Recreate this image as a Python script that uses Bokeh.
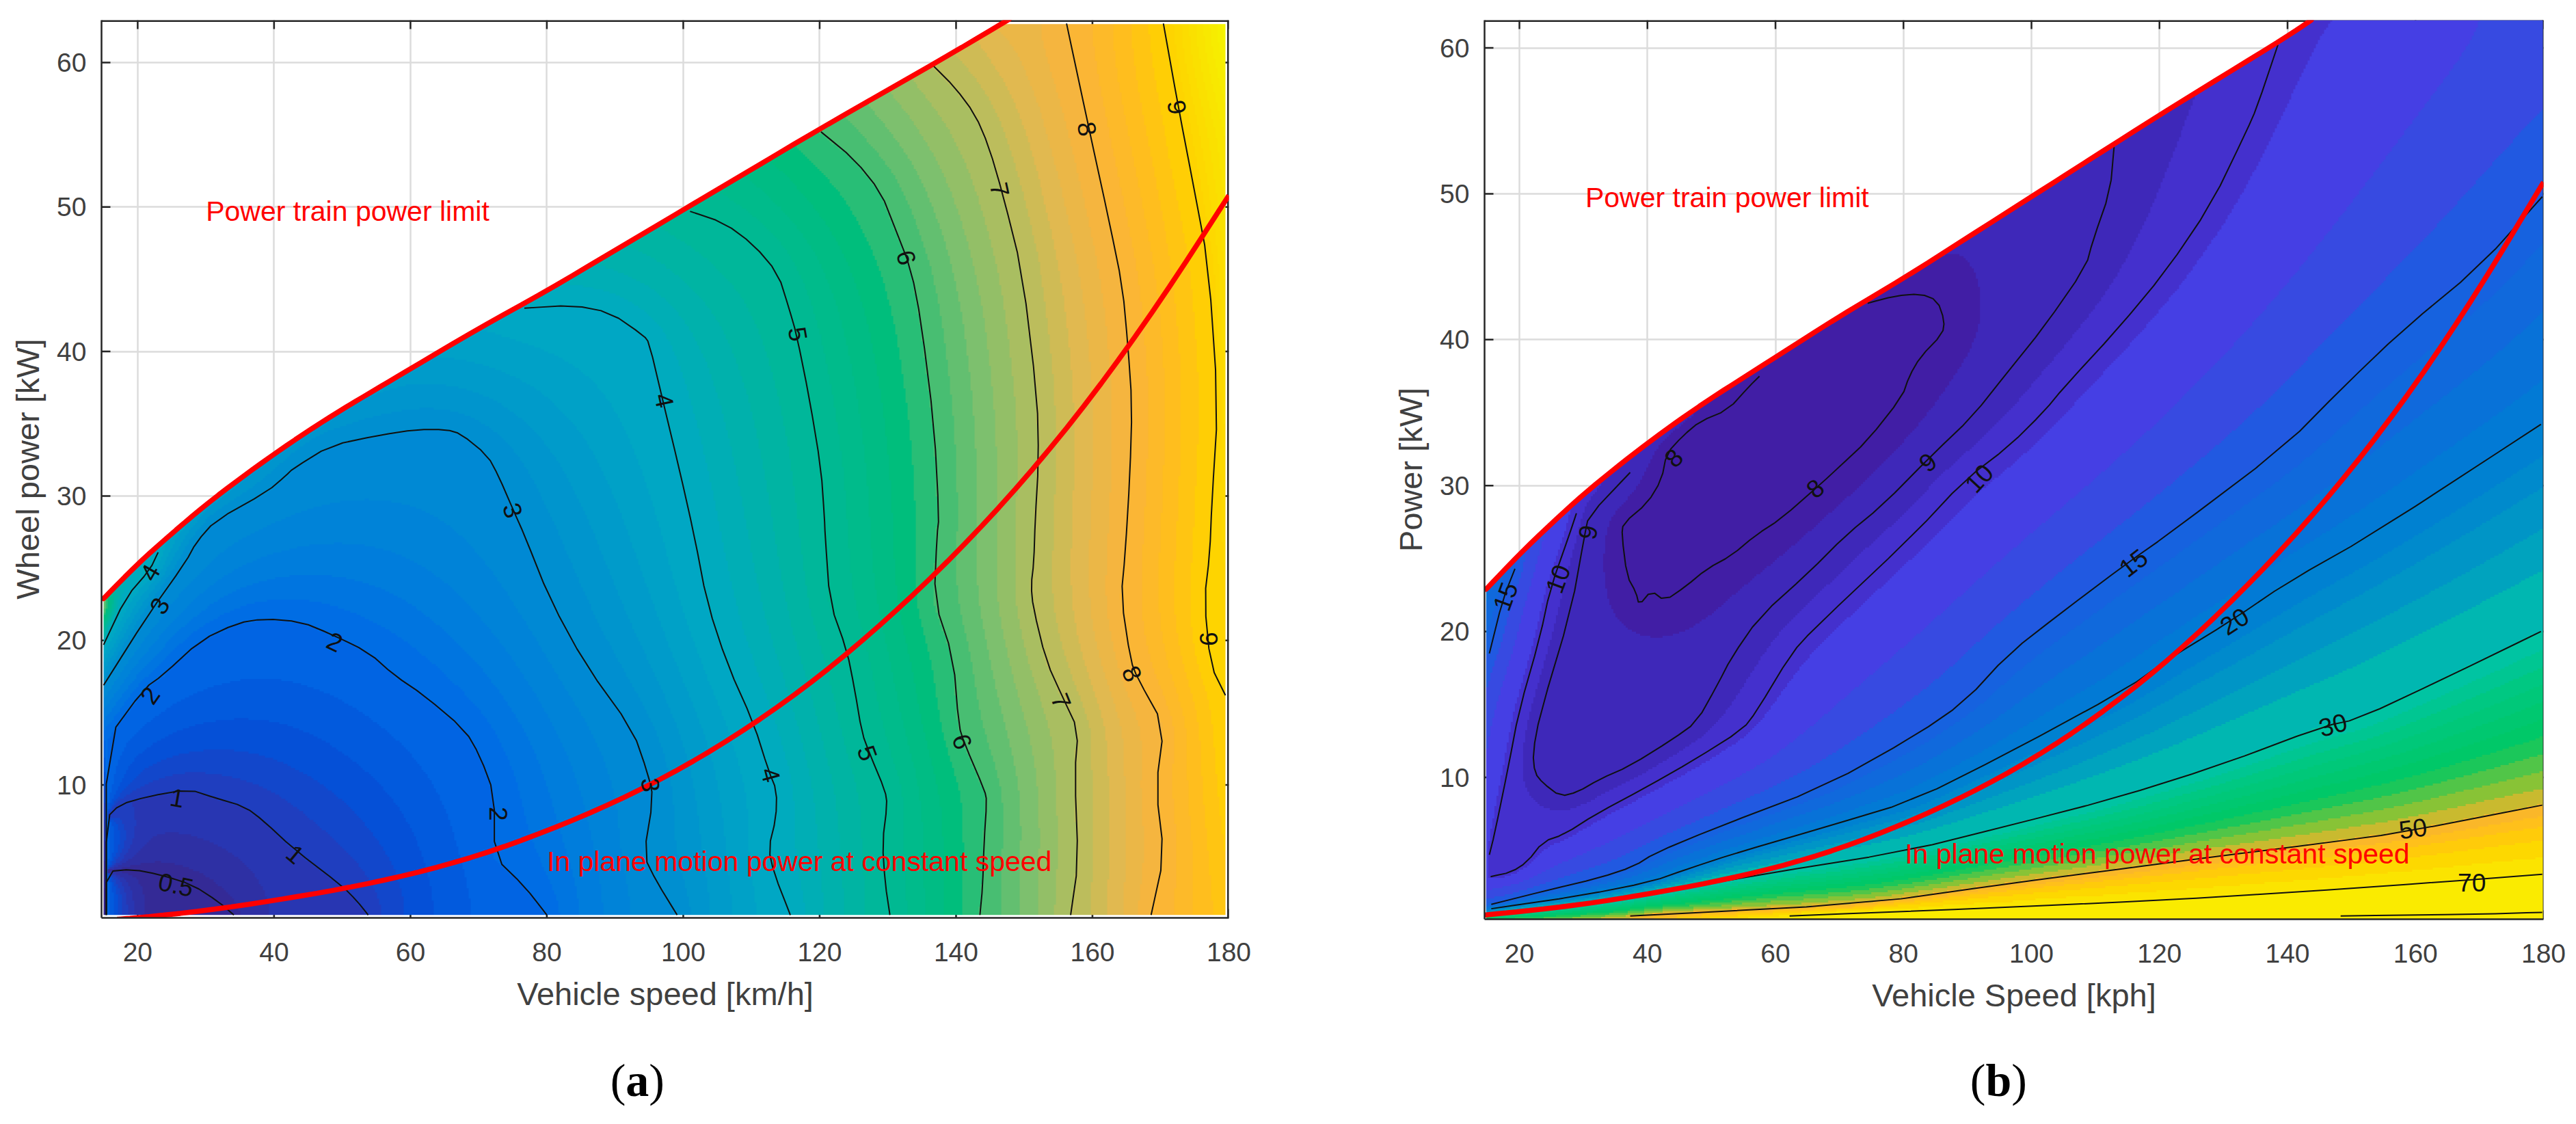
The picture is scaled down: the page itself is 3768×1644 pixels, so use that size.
import numpy as np
from bokeh.plotting import figure
from bokeh.layouts import row, column
from bokeh.models import FixedTicker, Div, Range1d
from bokeh.core.properties import value
from bokeh.embed import file_html
from bokeh.resources import INLINE

FONT = "Liberation Sans"
x_ticks = list(range(20, 200, 20))
y_ticks = list(range(10, 70, 10))

# ---------- Panel (a): contour lines (speed, power) ----------
a_05 = [(15.4,1),(15.4,4.0),(19.3,4.16),(23.2,3.8),(28,3.1),(31.9,1.9),(34.1,1)]
a_1 = [(15.4,1),(15.4,7.7),(17.4,8.65),(21.5,9.2),(27.5,9.7),(31.4,9.1),(35.7,8.5),(38.5,7.5),(42.8,5.6),(50,3),(52.1,2.0),(53.8,1)]
a_2 = [(15.4,1),(15.4,13.1),(21,16.7),(23.7,17.6),(29.2,20),(34.6,21.2),(38.5,21.5),(43.9,21.3),(48.3,20.45),(53.8,19.2),(57.6,17.6),(62,16.2),(68,13.8),(70.2,12),(72.3,9.35),(72.3,5),(76.7,3),(80,1)]
a_3 = [(15,16.9),(21.5,21.75),(27,25.4),(28.6,26.8),(31.4,28.3),(39,30.3),(41.7,31.4),(42.8,31.9),(48.3,33.5),(55.4,34.2),(60.9,34.6),(65.2,34.6),(67.4,34.3),(71.3,32.8),(72.9,31.4),(75.1,29),(76.7,27.3),(80.5,22.8),(85.7,18.3),(92.6,13.8),(94.8,10.8),(95.6,9.1),(94.2,5.1),(96.1,3.3),(99.1,1)]
a_4a = [(15,19.7),(18.3,23),(21.8,24.9),(23,26.1)]
a_4b = [(76.7,43),(83.8,43.2),(89.3,42.7),(94.2,41.1),(95,40.6),(97,36.6),(99.4,31.9),(101.6,27.3),(103.5,22.6),(106.5,18.3),(110.3,14.3),(112.5,11),(113.7,9.6),(113.6,7.7),(112.5,5.6),(113.3,3.9),(115.7,1)]
a_5 = [(101,49.7),(106,48.9),(110.3,47.4),(113.9,45.4),(115.5,43),(116.6,41.2),(118.5,36.75),(120.2,31.9),(120.7,28.5),(120.8,27.3),(121.5,22.6),(124,19.3),(125.1,16.7),(126.2,13.6),(127.3,12.2),(129.6,9.6),(129.9,8.65),(129.2,6),(129.6,3.2),(130.3,1)]
a_6 = [(120.2,55.2),(125.1,53.3),(129,51),(131,48.6),(133.4,45.7),(134.9,42),(136.8,34.8),(137.5,28.5),(137.2,27.3),(136.8,22.8),(139.6,18.8),(140.4,14.1),(141.2,12.9),(144.2,9.6),(144.5,8.9),(144.1,6),(143.9,3),(143.5,1)]
a_7 = [(136.6,59.8),(139.8,58.3),(142.8,56.4),(144.8,54.2),(146.9,50.8),(149.7,45.5),(151.9,36.8),(152.1,32.4),(151.6,28.3),(151.4,25.4),(151,23.8),(151.3,22.3),(153.2,18.6),(155.7,16),(157.9,13.8),(157.4,10.8),(157.9,4.6),(156.8,1)]
a_8 = [(156.2,62.7),(159.5,55.4),(162.5,48.9),(164.4,44.5),(165.2,40.4),(165.8,36.3),(165.5,31.5),(164.8,26),(164.2,23),(165.6,18.6),(166.6,17.4),(170.5,14.1),(169.3,9.8),(170.5,5.1),(168.6,1)]
a_9 = [(170.4,62.7),(172.6,56.9),(174.8,51.5),(177,46),(178.4,36.3),(177.5,29.5),(177.2,26),(176.4,22.8),(177.3,18.3),(179.5,16.2)]
a_lines = [(0.5,a_05),(1,a_1),(2,a_2),(3,a_3),(4,a_4a),(4,a_4b),(5,a_5),(6,a_6),(7,a_7),(8,a_8),(9,a_9)]

a_limit = [(15,22.9),(20,25.3),(25,27.4),(30,29.4),(35,31.2),(40,32.9),(45,34.5),(50,36),(55,37.4),(60,38.8),(70,41.6),(80,44.2),(90,47),(100,49.8),(110,52.6),(120,55.4),(130,58.1),(140,60.8),(147.8,63)]
a_inplane = [(17,0.7),(20,0.8),(30,1.3),(40,2),(50,2.8),(60,3.8),(70,5.1),(80,6.8),(90,8.8),(100,11.2),(110,14.1),(120,17.5),(130,21.5),(140,26),(150,31.1),(160,36.9),(170,43.5),(180,50.8)]

# edge values of the shaded field
a_left_edge = [(15,1,0.2),(15,4,0.5),(15,7.7,1),(15,13.1,2),(15,16.9,3),(15,19.7,4),(15,21,5),(15,22,6),(15,22.9,6.5)]
a_right_edge = [(179.6,1,8.7),(179.6,10,8.9),(179.6,16.2,9),(179.6,30,9.3),(179.6,45,9.6),(179.6,55,10),(179.6,62.7,10.7)]
a_limit_edge = [(22,26.2,4),(30,29.4,3.5),(45,34.5,3.3),(60,38.8,3.5),(76.7,43.4,4),(101,50.1,5),(120.2,55.5,6),(136.6,59.9,7),(147.8,62.7,7.7)]

a_label_text = ["0.5","1","1","2","2","2","3","3","3","4","4","4","5","5","6","6","7","7","8","8","9","9"]
a_label_x = [25.6,25.8,43.1,48.9,21.8,72.9,75,23.2,95.2,21.8,97.2,112.8,116.8,127,132.7,140.9,146.4,155.4,159.2,165.8,172.4,177]
a_label_y = [3.1,9.1,5.2,19.9,16.2,8,29,22.4,10,24.7,36.6,10.7,41.2,12.2,46.5,13,51.2,15.8,55.4,17.7,56.9,20.1]
a_label_rot = [-12,-10,-40,-25,55,-90,-72,60,-85,60,-78,-75,-80,-70,-75,-70,-78,-68,-80,-65,-80,-90]

# ---------- Panel (b) ----------
b_8 = [(57.5,37.5),(55.9,36.8),(52.6,35.2),(48.2,34.4),(45.5,33.4),(43,32.2),(42.2,30.4),(40,28.8),(36.2,27.4),(36,26.6),(36.8,23.8),(38.2,22.7),(38.7,21.8),(40.6,22.8),(42.7,22.1),(46,23.1),(49.3,24.3),(53.1,25.2),(56.9,26.6),(60.8,27.7),(67.3,30.2),(70,31.3),(74.4,33.1),(79.8,36.1),(80.9,37.5),(82.6,38.8),(86.1,40.4),(86.4,41.3),(85.3,42.7),(82.6,43.15),(78.7,43),(74.4,42.5)]
b_9 = [(37.3,30.9),(30.8,27.9),(30.2,26.64),(28.1,21.5),(23.2,14.3),(22.1,11.7),(22.4,10.3),(23.7,9.6),(26.4,8.7),(29.1,9),(32.4,9.85),(37.3,10.8),(43.9,12.6),(47.7,13.8),(51,16.4),(53.1,18.2),(57.5,21),(65.1,24),(71.1,26.64),(76.6,28.6),(84.7,32.2),(90.7,34.7),(96.5,37.9),(102,40.9),(108.5,45),(109.6,46.8),(112.3,50.2),(112.9,53.2)]
b_10a = [(28.9,28.1),(27.8,26.64),(24.8,22.9),(23.2,19.6),(19.9,14.5),(18.3,10.8),(16.1,6.1),(15.3,4.7)]
b_10b = [(15.5,3.2),(18.7,3.5),(21.2,4.2),(23.7,5.6),(27,6.1),(32,7.5),(39.7,9.3),(47.3,11.2),(54.9,13.3),(57,14.5),(62.5,18.5),(65.8,20.1),(81.6,26.64),(89.6,30.4),(96.5,32.7),(102,35.1),(105.2,36.8),(113.4,40.7),(121,44.7),(128.1,49.3),(133.6,54.3),(135.2,55.9),(138.5,60.2)]
b_15a = [(19.3,24.3),(17.4,22.2),(15.3,18.5)]
b_15b = [(15.6,1.3),(24.3,2.26),(32.4,3.1),(37.9,3.9),(41.1,4.8),(50.4,6.5),(67.8,9.4),(82,12.9),(89.6,15.2),(96.5,18.5),(104.7,21.3),(115,24.7),(121.3,26.64),(139.6,32.7),(148.8,36.8),(158.1,40.7),(170,45),(179.8,49.8)]
b_20 = [(15.6,1),(29.7,1.9),(40.6,2.85),(46.1,3.7),(53.7,4.8),(67.8,6.6),(81.5,8.4),(96.5,11.7),(115,16.1),(121,18),(131.4,20.8),(140.1,23.4),(153.2,26.64),(179.6,34.2)]
b_30 = [(15.6,0.63),(35.2,1.56),(57,3.3),(80.5,4.95),(96.5,6.7),(112.9,8.55),(129.2,10.8),(145.6,13.5),(151,14),(164.6,16.8),(179.6,20)]
b_50 = [(37.3,0.5),(74,1.33),(96.5,2.73),(112.9,3.66),(129.2,4.6),(145.6,5.5),(157.6,6.2),(179.8,8.1)]
b_70 = [(62.2,0.5),(96.5,1.1),(121,1.6),(140,2.1),(164.6,2.85),(179.8,3.36)]
b_100 = [(148.3,0.5),(170,0.63),(179.8,0.75)]
b_lines = [(8,b_8),(9,b_9),(10,b_10a),(10,b_10b),(15,b_15a),(15,b_15b),(20,b_20),(30,b_30),(50,b_50),(70,b_70),(100,b_100)]

b_limit = [(14.8,22.9),(20,25.3),(25,27.4),(30,29.4),(35,31.2),(40,32.9),(45,34.5),(50,36),(55,37.4),(60,38.8),(70,41.6),(80,44.2),(90,47),(100,49.8),(110,52.6),(120,55.4),(130,58.1),(140,60.8),(143.7,61.9)]
b_inplane = [(14.4,0.56),(20,0.8),(30,1.3),(40,2),(50,2.8),(60,3.8),(70,5.1),(80,6.8),(90,8.8),(100,11.2),(110,14.1),(120,17.5),(130,21.5),(140,26),(150,31.1),(160,36.9),(170,43.5),(180,50.8)]

b_left_edge = [(14.8,0.3,40),(14.8,0.63,30),(14.8,1,20),(14.8,1.3,15),(14.8,3.2,10.5),(14.8,4.7,10.5),(14.8,10,12),(14.8,14,13),(14.8,18.5,15),(14.8,22.9,18)]
b_right_edge = [(179.9,0.4,110),(179.9,0.75,100),(179.9,3.36,70),(179.9,8.1,50),(179.9,20,30),(179.9,34.2,20),(179.9,49.8,15),(179.9,61.8,13)]
b_top_edge = [(143.7,61.8,10.3),(155,61.8,11),(165,61.8,12),(172,61.8,12.7),(179.9,61.8,13)]
b_bottom_edge = [(14.8,0.3,40),(37.3,0.3,50),(62.2,0.3,70),(148.3,0.3,100),(179.9,0.3,110)]
b_limit_edge = [(14.8,22.9,18),(19.3,25,15),(28.9,29,10),(37.3,32,9),(57,37.9,8),(74.4,42.7,8),(85,45.6,8.5),(100,49.8,8.6),(113,53.4,9),(138.5,60.4,10),(143.7,61.8,10.3)]

b_label_text = ["8","8","9","9","10","10","15","15","20","30","50","70"]
b_label_x = [44.1,66.2,83.8,30.7,91.8,26,17.8,115.9,131.7,147.1,159.6,168.8]
b_label_y = [31.9,29.8,31.6,26.8,30.5,23.6,22.4,24.7,20.7,13.6,6.5,2.8]
b_label_rot = [45,40,40,80,47,70,70,38,33,15,8,0]

# ---------- colour scales ----------
a_col_z = [0,0.5,1,1.5,2,2.5,3,4,5,5.7,6,6.5,7,7.5,8,8.5,9,10.7]
a_col_rgb = [(60,30,125),(52,42,150),(38,58,185),(5,80,215),(0,105,230),(0,125,220),(0,140,210),(0,170,195),(0,185,150),(0,190,125),(60,190,115),(125,192,110),(180,190,95),(225,185,80),(250,180,60),(255,190,30),(255,210,0),(245,245,0)]
a_bands = [i*0.2 for i in range(0, 56)]

b_col_z = [7,8.5,9,10,11,13,15,20,25,30,35,42,47.5,50,52,60,70,110]
b_col_rgb = [(65,30,165),(65,32,165),(62,40,185),(68,48,205),(72,60,230),(60,72,225),(25,95,225),(0,125,212),(0,155,195),(0,195,170),(0,200,130),(0,200,100),(150,195,50),(235,180,45),(255,185,40),(255,210,0),(250,235,0),(250,235,0)]
b_bands = [0,8.5,9.5,10.5,12.5,14,15,16,17.5,19,20,21.5,23,25,27,30,32,34,36,38,40,42,44,46,48,50,53,56,60,65,70,200]


def solve_field(lines, edges, x0, x1, y0, y1, nx, ny):
    """Smooth field through the read isolines (only used to shade the background)."""
    cons = []
    for lev, pts in lines:
        cons.append([(p[0], p[1], lev) for p in pts])
    cons += edges
    z = None
    for s in (8, 4, 2, 1):
        mx, my = max(nx // s, 2), max(ny // s, 2)
        mask = np.zeros((my, mx), bool)
        val = np.zeros((my, mx))
        for c in cons:
            c = np.array(c, float)
            d = np.hypot(np.diff(c[:, 0]) / (x1 - x0) * mx, np.diff(c[:, 1]) / (y1 - y0) * my)
            t = np.r_[0, np.cumsum(d)]
            tt = np.linspace(0, t[-1], int(t[-1] * 4) + 2)
            px = np.interp(tt, t, c[:, 0]); py = np.interp(tt, t, c[:, 1]); pz = np.interp(tt, t, c[:, 2])
            ix = np.clip(((px - x0) / (x1 - x0) * mx).astype(int), 0, mx - 1)
            iy = np.clip(((py - y0) / (y1 - y0) * my).astype(int), 0, my - 1)
            mask[iy, ix] = True; val[iy, ix] = pz
        if z is None:
            z = np.full((my, mx), val[mask].mean())
        else:
            jy = (np.arange(my) * z.shape[0] / my).astype(int)
            jx = (np.arange(mx) * z.shape[1] / mx).astype(int)
            z = z[np.ix_(jy, jx)]
        z[mask] = val[mask]
        for _ in range(600 if s > 1 else 250):
            q = np.pad(z, 1, mode="edge")
            z = (q[:-2, 1:-1] + q[2:, 1:-1] + q[1:-1, :-2] + q[1:-1, 2:]) / 4
            z[mask] = val[mask]
    return z


def shade(z, bands, col_z, col_rgb, limit, x0, x1, y0, y1):
    ny, nx = z.shape
    xs = x0 + (np.arange(nx) + .5) / nx * (x1 - x0)
    ys = y0 + (np.arange(ny) + .5) / ny * (y1 - y0)
    b = np.array(bands, float)
    idx = np.clip(np.digitize(z, b) - 1, 0, len(b) - 2)
    mid = (b[idx] + b[idx + 1]) / 2
    rgb = np.array(col_rgb, float)
    img = np.zeros((ny, nx), dtype=np.uint32)
    v = img.view(np.uint8).reshape(ny, nx, 4)
    for k in range(3):
        v[..., k] = np.interp(mid, col_z, rgb[:, k]).astype(np.uint8)
    lim = np.array(limit)
    top = np.interp(xs, lim[:, 0], lim[:, 1])
    v[..., 3] = np.where(ys[:, None] <= top[None, :], 255, 0)
    return img


def soften(pts, passes=2):
    """Round the corners of a read polyline for drawing (corner cutting)."""
    a = np.array(pts, float)
    for _ in range(passes):
        q = 0.75 * a[:-1] + 0.25 * a[1:]
        r = 0.25 * a[:-1] + 0.75 * a[1:]
        m = np.empty((q.shape[0] * 2, 2))
        m[0::2] = q
        m[1::2] = r
        a = np.vstack([a[:1], m, a[-1:]])
    return a[:, 0], a[:, 1]


def make_panel(xlim, ylim, frame_w, frame_h, left, right, top, bottom, xlabel, ylabel):
    p = figure(frame_width=frame_w, frame_height=frame_h, x_range=Range1d(*xlim), y_range=Range1d(*ylim),
               output_backend="svg", toolbar_location=None, min_border_left=left, min_border_right=right,
               min_border_top=top, min_border_bottom=bottom, x_axis_label=xlabel, y_axis_label=ylabel)
    p.outline_line_color = None
    p.background_fill_color = "white"
    p.grid.grid_line_color = "#dcdcdc"
    p.grid.grid_line_width = 2.5
    p.xgrid.ticker = FixedTicker(ticks=x_ticks)
    p.ygrid.ticker = FixedTicker(ticks=y_ticks)
    for ax in p.xaxis + p.yaxis:
        ax.axis_line_color = "#262626"
        ax.axis_line_width = 2.5
        ax.major_tick_line_color = None
        ax.major_tick_in = 0
        ax.major_tick_out = 0
        ax.minor_tick_line_color = None
        ax.major_label_text_color = "#404040"
        ax.major_label_text_font = FONT
        ax.major_label_text_font_size = "39px"
        ax.axis_label_text_color = "#404040"
        ax.axis_label_text_font = FONT
        ax.axis_label_text_font_size = "47px"
        ax.axis_label_text_font_style = "normal"
    p.xaxis.ticker = FixedTicker(ticks=x_ticks)
    p.yaxis.ticker = FixedTicker(ticks=y_ticks)
    p.xaxis.major_label_standoff = 36
    p.xaxis.axis_label_standoff = 18
    p.yaxis.major_label_standoff = 22
    p.yaxis.axis_label_standoff = 13
    # frame top/right and inward ticks sit beneath the shading, as in the reference
    px_x = frame_w / (xlim[1] - xlim[0])
    px_y = frame_h / (ylim[1] - ylim[0])
    tx, ty = 13 / px_x, 13 / px_y
    xt = np.array(x_ticks, float)
    yt = np.array(y_ticks, float)
    dark = dict(line_color="#262626", line_width=2.5)
    p.segment(xt, ylim[0], xt, ylim[0] + ty, **dark)
    p.segment(xt, ylim[1], xt, ylim[1] - ty, **dark)
    p.segment(xlim[0], yt, xlim[0] + tx, yt, **dark)
    p.segment(xlim[1], yt, xlim[1] - tx, yt, **dark)
    p.segment([xlim[0], xlim[1]], [ylim[1], ylim[0]], [xlim[1], xlim[1]], [ylim[1], ylim[1]], line_color="#262626", line_width=5)
    return p


def add_marks(p, img, ext, lines, limit, inplane, lx, ly, lt, lr, txt_a, txt_b):
    x0, x1, y0, y1 = ext
    p.image_rgba(image=[img], x=x0, y=y0, dw=x1 - x0, dh=y1 - y0)
    for lev, pts in lines:
        sx, sy = soften(pts, 1)
        p.line(sx, sy, line_color="#101010", line_width=2, line_join="round")
    sx, sy = soften(limit)
    p.line(sx, sy, line_color="#ff0000", line_width=7.5, line_cap="round")
    sx, sy = soften(inplane)
    p.line(sx, sy, line_color="#ff0000", line_width=7.5)
    p.text(x=lx, y=ly, text=lt, angle=lr, angle_units="deg", text_font=value(FONT), text_font_size="37px",
           text_color="#101010", text_align="center", text_baseline="middle")
    p.text(x=[txt_a[0]], y=[txt_a[1]], text=["Power train power limit"], text_font=value(FONT), text_font_size="41px",
           text_color="#ff0000", text_align="left", text_baseline="middle")
    p.text(x=[txt_b[0]], y=[txt_b[1]], text=["In plane motion power at constant speed"], text_font=value(FONT),
           text_font_size="41px", text_color="#ff0000", text_align="left", text_baseline="middle")


def caption(letter, width):
    return Div(text=f"(<b>{letter}</b>)", width=width, height=80, margin=(0, 0, 0, 0),
               styles={"font-family": "Liberation Serif", "font-size": "68px", "line-height": "80px",
                       "color": "#000000", "text-align": "right", "width": f"{width}px"})


# Panel a  (page frame x 148..1797, y 29..1342; the page has no offset of its own here)
a_ext = (15.0, 179.5, 1.0, 62.66)
a_z = solve_field(a_lines, [a_left_edge, a_right_edge, a_limit_edge], *a_ext, 550, 430)
a_img = shade(a_z, a_bands, a_col_z, a_col_rgb, a_limit, *a_ext)
p1 = make_panel((14.7, 180), (0.8, 62.93), 1649, 1313, 148, 203, 29, 198, "Vehicle speed [km/h]", "Wheel power [kW]")
add_marks(p1, a_img, a_ext, a_lines, a_limit, a_inplane, a_label_x, a_label_y, a_label_text, a_label_rot, (30, 49.7), (80, 4.7))

# Panel b
b_ext = (14.8, 179.9, 0.3, 61.9)
b_z = solve_field(b_lines, [b_left_edge, b_right_edge, b_top_edge, b_bottom_edge, b_limit_edge], *b_ext, 516, 438)
b_img = shade(b_z, b_bands, b_col_z, b_col_rgb, b_limit, *b_ext)
p2 = make_panel((14.55, 180), (0.28, 61.9), 1549, 1315, 171, 40, 28, 197, "Vehicle Speed [kph]", "Power [kW]")
add_marks(p2, b_img, b_ext, b_lines, b_limit, b_inplane, b_label_x, b_label_y, b_label_text, b_label_rot, (30.3, 49.75), (80.2, 4.76))

cap_a = caption("a", 972)
cap_b = caption("b", 1993)
layout = column(row(p1, p2, spacing=0), row(cap_a, cap_b, spacing=0), spacing=0)
open("out.html", "w").write(file_html(layout, INLINE))
